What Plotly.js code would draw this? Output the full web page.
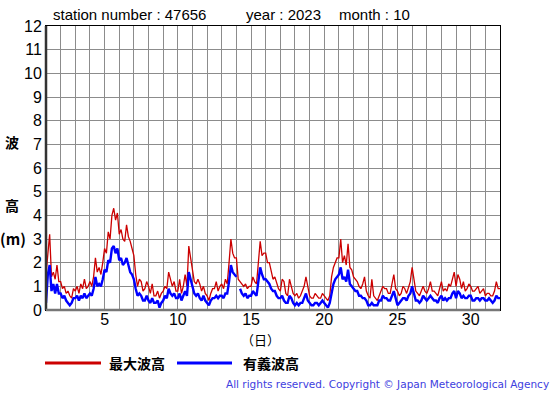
<!DOCTYPE html>
<html><head><meta charset="utf-8">
<script src="https://cdn.plot.ly/plotly-3.0.1.min.js"></script>
<style>html,body{margin:0;padding:0;background:#fff}#chart{width:555px;height:395px}</style>
</head><body><div id="chart"></div>
<script>
// 3-hourly readings, 8 per day, Oct 1 00h .. Oct 31 21h, plus Nov 1 00h
const maxWave = [
 1.5,2.5,3.2,1.4,1.6,1.3,1.9,1.2,
 1.2,0.9,1.0,0.7,0.8,0.6,0.5,0.9,
 0.8,1.0,0.7,1.1,0.9,1.3,0.9,1.0,
 1.2,1.0,1.4,2.2,1.6,1.8,1.5,2.0,
 2.6,2.4,3.3,3.0,4.0,4.3,3.8,4.1,
 3.2,3.4,3.0,2.9,3.6,3.1,2.9,2.6,
 2.3,1.5,1.0,1.3,1.2,0.8,0.9,1.2,
 1.0,0.7,1.1,0.6,0.6,0.8,0.5,0.7,
 0.8,1.0,0.9,1.6,1.3,1.0,1.2,0.8,
 0.8,1.3,0.7,1.0,1.5,1.0,2.7,2.2,
 1.6,1.2,1.1,1.3,1.1,0.8,1.0,0.7,
 0.6,0.4,0.7,0.9,0.9,1.2,0.8,1.0,
 1.1,0.9,1.3,1.1,2.0,3.0,2.4,2.2,
 2.2,1.3,1.2,1.1,1.0,1.1,0.9,1.0,
 1.0,1.4,1.2,1.1,2.0,2.9,2.3,2.4,
 2.4,2.0,2.0,1.6,1.3,1.4,1.1,0.9,
 0.8,1.3,1.2,0.7,0.6,1.3,1.0,0.7,
 0.6,0.7,0.5,0.6,0.8,1.0,1.4,0.9,
 0.6,0.5,0.5,0.7,0.6,0.5,0.5,0.7,
 0.6,0.5,0.4,0.6,1.4,1.8,2.0,2.2,
 2.2,3.0,2.0,2.3,1.9,2.8,1.8,1.7,
 1.4,1.3,1.2,1.0,0.9,1.1,1.4,0.8,
 0.6,0.5,1.3,0.6,0.5,0.4,0.6,0.8,
 1.0,0.9,0.9,0.7,0.7,1.1,1.5,0.9,
 0.8,0.6,0.7,1.0,0.9,0.7,1.0,1.2,
 1.8,1.2,0.8,0.7,0.6,0.8,1.0,0.8,
 0.7,0.9,1.2,0.8,0.8,0.7,0.6,0.9,
 1.2,0.8,0.9,0.8,1.1,1.0,1.3,1.6,
 1.0,1.5,1.3,0.9,1.2,0.8,0.9,1.1,
 1.0,0.8,0.8,0.9,1.0,0.7,0.8,0.9,
 0.6,0.7,0.7,0.6,0.6,0.8,1.2,0.9,
 0.9];
const sigWave = [
 0.3,1.5,1.9,0.8,1.1,0.7,1.1,0.7,
 0.7,0.5,0.6,0.4,0.3,0.2,0.3,0.5,
 0.5,0.6,0.4,0.6,0.5,0.7,0.5,0.6,
 0.7,0.6,0.9,1.4,1.0,1.1,1.0,1.3,
 1.7,1.6,2.1,2.0,2.6,2.7,2.4,2.6,
 2.1,2.2,1.9,2.0,2.2,1.9,1.6,1.5,
 1.3,0.9,0.6,0.7,0.6,0.4,0.4,0.6,
 0.4,0.3,0.5,0.3,0.3,0.4,0.1,0.3,
 0.4,0.6,0.5,0.9,0.7,0.6,0.7,0.5,
 0.5,0.7,0.4,0.6,0.8,0.6,1.6,1.3,
 1.0,0.7,0.6,0.7,0.5,0.4,0.6,0.4,
 0.3,0.2,0.4,0.5,0.5,0.6,0.5,0.6,
 0.6,0.5,0.7,0.7,1.2,1.9,1.6,1.5,
 1.4,null,0.9,0.7,0.6,0.7,0.5,0.6,
 0.6,0.8,0.7,0.6,1.2,1.8,1.5,1.3,
 1.3,1.2,1.1,0.9,0.8,0.8,0.6,0.5,
 0.5,0.6,0.4,0.3,0.3,0.6,0.5,0.3,
 0.2,0.3,0.2,0.3,0.3,0.5,0.7,0.4,
 0.3,0.2,0.2,0.3,0.3,0.2,0.3,0.4,
 0.3,0.2,0.1,0.3,0.8,1.1,1.3,1.4,
 1.5,1.8,1.3,1.4,1.2,1.7,1.1,1.0,
 0.9,0.8,0.8,0.6,0.6,0.5,0.5,0.4,
 0.2,0.2,0.3,0.2,0.2,0.2,0.4,0.4,
 0.6,0.5,0.5,0.4,0.4,0.6,0.8,0.5,
 0.2,0.3,0.4,0.5,0.5,0.4,0.6,0.7,
 1.0,0.7,0.4,0.4,0.3,0.4,0.6,0.5,
 0.4,0.5,0.6,0.5,0.4,0.4,0.3,0.5,
 0.6,0.4,0.5,0.4,0.5,0.5,0.7,0.8,
 0.5,0.8,0.7,0.5,0.6,0.5,0.5,0.6,
 0.6,0.4,0.4,0.5,0.5,0.4,0.5,0.5,
 0.4,0.4,0.5,0.4,0.3,0.4,0.6,0.5,
 0.5];
const xTickVals = [5,10,15,20,25,30];
const yTickVals = [0,1,2,3,4,5,6,7,8,9,10,11,12];
const seriesNames = ['最大波高','有義波高'];

const times = maxWave.map((_, i) => 1 + i / 8);
const gridDays = Array.from({length: 32}, (_, i) => i + 1);
const gridText = gridDays.map(d => xTickVals.includes(d) ? String(d) : '');

const L = 46, R = 500, T = 26, B = 310;
const px = x => (x - L) / (R - L);
const py = y => (B - y) / (B - T);

const traces = [
  {x: times, y: maxWave, name: seriesNames[0], mode: 'lines', line: {color: '#cc0000', width: 1.3}, connectgaps: false},
  {x: times, y: sigWave, name: seriesNames[1], mode: 'lines', line: {color: '#0000ff', width: 2.4}, connectgaps: false}
];

const fTxt = {family: 'Liberation Sans, Arial, sans-serif', size: 15, color: '#000'};
const fJp = {family: 'Noto Sans CJK JP, sans-serif', size: 14, color: '#000', weight: 'bold'};

const layout = {
  width: 555, height: 395,
  margin: {l: L, r: 555 - R, t: T, b: 395 - B},
  paper_bgcolor: '#fff', plot_bgcolor: '#fff',
  showlegend: false,
  xaxis: {range: [1, 32], tickmode: 'array', tickvals: gridDays, ticktext: gridText,
    showgrid: true, gridcolor: '#8c8c8c', gridwidth: 1, zeroline: false,
    showline: true, linecolor: '#000', linewidth: 1, mirror: true, ticks: '',
    ticklabelstandoff: -5,
    tickfont: {family: 'Liberation Sans, Arial, sans-serif', size: 16, color: '#000'}},
  yaxis: {range: [0, 12], tickmode: 'array', tickvals: yTickVals,
    showgrid: true, gridcolor: '#8c8c8c', gridwidth: 1, zeroline: false,
    showline: true, linecolor: '#000', linewidth: 1, mirror: true, ticks: '',
    tickfont: {family: 'Liberation Sans, Arial, sans-serif', size: 16, color: '#000'}},
  shapes: [
    {type: 'line', xref: 'paper', yref: 'paper', x0: 0, x1: 0, y0: 0, y1: 1, line: {color: '#333', width: 2.5}},
    {type: 'line', xref: 'paper', yref: 'paper', x0: 0, x1: 1, y0: 0, y1: 0, line: {color: '#777', width: 2.5}},
    {type: 'line', xref: 'paper', yref: 'paper', x0: px(45), x1: px(101), y0: py(363), y1: py(363), line: {color: '#cc0000', width: 3}},
    {type: 'line', xref: 'paper', yref: 'paper', x0: px(177), x1: px(232), y0: py(363), y1: py(363), line: {color: '#0000ff', width: 3}}
  ],
  annotations: [
    {text: 'station number : 47656', xref: 'paper', yref: 'paper', x: px(51), y: py(15), xanchor: 'left', yanchor: 'middle', showarrow: false, font: fTxt},
    {text: 'year : 2023', xref: 'paper', yref: 'paper', x: px(244), y: py(15), xanchor: 'left', yanchor: 'middle', showarrow: false, font: fTxt},
    {text: 'month : 10', xref: 'paper', yref: 'paper', x: px(337), y: py(15), xanchor: 'left', yanchor: 'middle', showarrow: false, font: fTxt},
    {text: '波', xref: 'paper', yref: 'paper', x: px(12), y: py(142), xanchor: 'center', yanchor: 'middle', showarrow: false, font: fJp},
    {text: '高', xref: 'paper', yref: 'paper', x: px(12), y: py(205), xanchor: 'center', yanchor: 'middle', showarrow: false, font: fJp},
    {text: '(m)', xref: 'paper', yref: 'paper', x: px(13), y: py(238), xanchor: 'center', yanchor: 'middle', showarrow: false, font: {family: 'Noto Sans CJK JP, sans-serif', size: 15, color: '#000', weight: 'bold'}},
    {text: '（日）', xref: 'paper', yref: 'paper', x: px(260), y: py(339), xanchor: 'center', yanchor: 'middle', showarrow: false, font: {family: 'Noto Sans CJK JP, sans-serif', size: 13, color: '#000'}},
    {text: seriesNames[0], xref: 'paper', yref: 'paper', x: px(107), y: py(363), xanchor: 'left', yanchor: 'middle', showarrow: false, font: fJp},
    {text: seriesNames[1], xref: 'paper', yref: 'paper', x: px(241), y: py(363), xanchor: 'left', yanchor: 'middle', showarrow: false, font: fJp},
    {text: 'All rights reserved. Copyright © Japan Meteorological Agency', xref: 'paper', yref: 'paper', x: px(551), y: py(384), xanchor: 'right', yanchor: 'middle', showarrow: false, font: {family: 'DejaVu Sans, sans-serif', size: 10.5, color: '#4040e0'}}
  ]
};

Plotly.newPlot('chart', traces, layout, {staticPlot: true, displayModeBar: false});
</script></body></html>
